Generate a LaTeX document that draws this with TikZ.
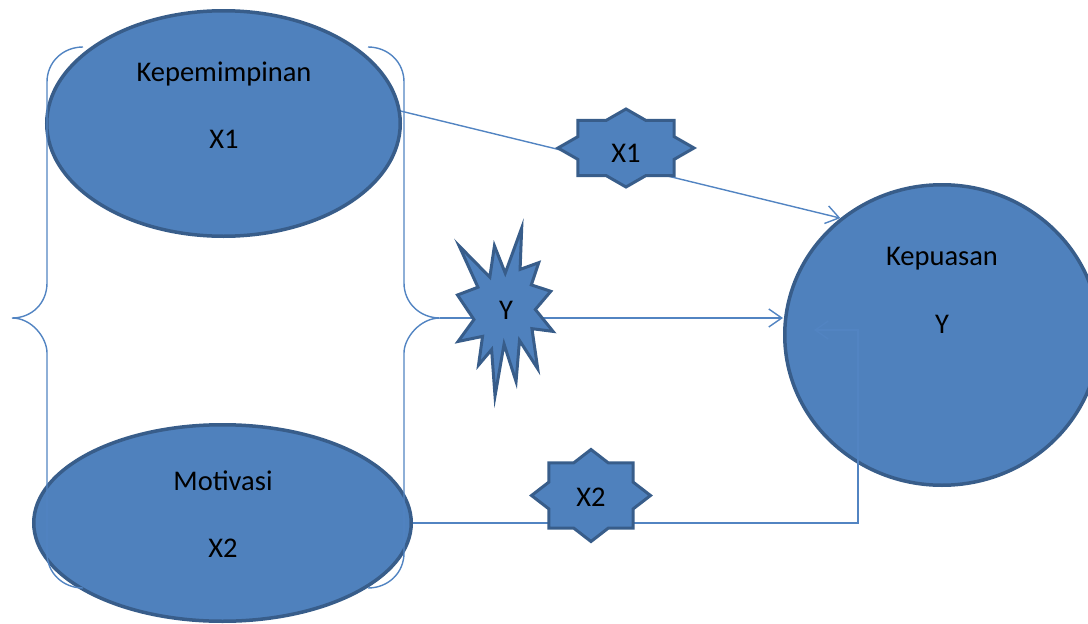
\documentclass[tikz,border=0pt]{standalone}
\usepackage{fontspec}
\setmainfont{Carlito}
\usetikzlibrary{arrows.meta,shapes.geometric}
\definecolor{shfill}{HTML}{4F81BD}
\definecolor{shline}{HTML}{385D8A}
\definecolor{connc}{RGB}{82,132,194}
\newcommand\octstar[4]{%
  \draw[starsh] plot[samples at={0,22.5,...,337.5}, variable=\t]
    ({#1+#3*sr(\t)*cos(\t)},{#2+#4*sr(\t)*sin(\t)}) -- cycle;}
\begin{document}
\begin{tikzpicture}[x=1pt,y=-1pt,
  declare function={sr(\t)=1-0.235*mod(round(\t/22.5),2);},
  blob/.style={shape=ellipse, draw=shline, fill=shfill, line width=3.5pt, inner sep=0pt},
  starsh/.style={draw=shline, fill=shfill, line width=3pt, line join=miter},
  lbl/.style={font=\fontsize{28.5}{34}\selectfont, anchor=base, inner sep=0pt, text=black},
  connline/.style={draw=connc, line width=1.4pt},
  bracel/.style={draw=connc, line width=1.4pt},
  arr/.style={-{Straight Barb[length=13pt,width=18pt]}}]
\useasboundingbox (0,0) rectangle (1088,624);
\clip (0,0) rectangle (1088,624);

% main shapes
\node[blob, minimum width=353.5pt, minimum height=225.5pt] (e1) at (223.5,123.5) {};
\node[blob, minimum width=377.5pt, minimum height=196.5pt] (e2) at (222.5,523) {};
\node[blob, minimum width=314.5pt, minimum height=300.5pt] (circ) at (942,335) {};

% braces
\coordinate (tipL) at (12,318);
\coordinate (tipR) at (440,318);
\draw[bracel] (83,47) .. controls (63,47) and (47,62) .. (47,82) -- (47,283)
  .. controls (47,303) and (32,318) .. (tipL)
  .. controls (32,318) and (47,338) .. (47,353) -- (47,553)
  .. controls (47,573) and (63,588) .. (83,588);
\draw[bracel] (368,47) .. controls (388,47) and (404,62) .. (404,82) -- (404,283)
  .. controls (404,303) and (420,318) .. (tipR)
  .. controls (420,318) and (404,338) .. (404,353) -- (404,553)
  .. controls (404,573) and (388,588) .. (368,588);

% connectors
\coordinate (bendc) at (858,330);
\coordinate (endc) at (814,330);
\draw[connline,arr] (e1.4) -- (circ.131);
\draw[connline,arr] (tipR) -- (tipR -| circ.west);
\draw[connline,arr] (e2.east) -| (bendc) -- (endc);

% stars
\octstar{626}{148}{68}{39}
\octstar{591}{495.5}{59.5}{46}
\begin{scope}[shift={(457.5,228)}, xscale=0.955, yscale=1.68]
\draw[starsh] plot coordinates {(50.0,26.85) (67.23,0) (65.53,24.65) (85.09,20.63)
 (77.32,33.87) (97.67,37.67) (81.51,48.50) (100,61.53) (77.95,59.92) (84.00,83.77)
 (64.91,66.93) (61.33,91.38) (48.76,69.14) (39.28,100) (35.72,72.35) (22.05,81.56)
 (26.24,64.52) (0.63,67.53) (17.23,54.51) (0,39.88) (21.42,35.26) (1.71,10.63)
 (33.85,29.26) (38.67,10.63)} -- cycle;
\end{scope}

% labels
\node[lbl] (t1a) at (224,81) {Kepemimpinan};
\node[lbl] (t1b) at (224,148) {X1};
\node[lbl] (t2a) at (223,490) {Motivasi};
\node[lbl] (t2b) at (223,557) {X2};
\node[lbl] (t3a) at (942,265) {Kepuasan};
\node[lbl] (t3b) at (942,333) {Y};
\node[lbl] (s1) at (626,162) {X1};
\node[lbl] (s2) at (591,506) {X2};
\node[lbl] (s3) at (506,319) {Y};
\end{tikzpicture}
\end{document}
